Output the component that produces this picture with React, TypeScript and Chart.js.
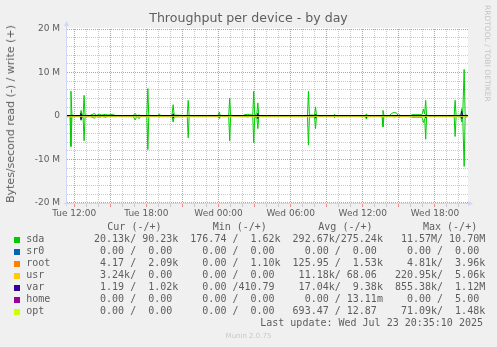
import { useEffect, useRef } from 'react';
import { Chart, registerables } from 'chart.js';

Chart.register(...registerables);

const MB = 1e6;

// Time axis: hours since Tue 00:00
const xMin = 11.4;
const xMax = 44.75;
const xTickHours = [12, 18, 24, 30, 36, 42];
const xTickLabels = ['Tue 12:00', 'Tue 18:00', 'Wed 00:00', 'Wed 06:00', 'Wed 12:00', 'Wed 18:00'];
const yTickValues = [20, 10, 0, -10, -20]; // in M

// sda samples (MB/s)
const sdaHours = [
  11.4, 11.65, 11.73, 11.81, 12.0, 12.5, 12.57, 12.65, 12.74, 12.82, 12.9, 13.3, 13.7, 13.8, 14.1, 14.3,
  14.6, 14.8, 15.2, 15.4, 16.9, 17.07, 17.2, 17.4, 17.5, 18.04, 18.125, 18.2, 19.0, 19.07, 19.2, 20.1,
  20.15, 20.23, 20.31, 21.4, 21.48, 21.56, 23.9, 24.0, 24.07, 24.15, 24.85, 24.93, 25.01, 26.0, 26.2,
  26.4, 26.6, 26.85, 26.93, 27.01, 27.19, 27.27, 27.35, 31.4, 31.48, 31.56, 31.99, 32.07, 32.15, 33.57,
  33.65, 33.73, 36.22, 36.3, 36.38, 37.6, 37.68, 37.76, 38.2, 38.4, 38.6, 38.8, 38.95, 39.05, 39.15,
  40.0, 40.1, 40.9, 40.96, 41.04, 41.15, 41.23, 41.31, 43.6, 43.68, 43.76, 44.15, 44.23, 44.31, 44.43,
  44.51, 44.75,
];
const sdaWrite = [
  0.1, 0.1, 5.7, 0.2, 0.1, 0.1, 1.3, 0.2, 0.2, 4.75, 0.2, 0.1, 0.6, 0.1, 0.4, 0.2,
  0.4, 0.2, 0.4, 0.1, 0.1, 0.6, 0.1, 0.2, 0.1, 0.1, 6.3, 0.1, 0.1, 0.5, 0.1, 0.1,
  0.6, 2.6, 0.2, 0.1, 3.6, 0.1, 0.1, 0.4, 0.9, 0.1, 0.1, 4.1, 0.1, 0.1, 0.3,
  0.4, 0.3, 0.2, 5.7, 0.3, 0.5, 3.0, 0.1, 0.1, 5.7, 0.2, 0.2, 2.1, 0.1, 0.1,
  0.4, 0.1, 0.1, 0.5, 0.1, 0.1, 1.3, 0.1, 0.1, 0.6, 0.8, 0.7, 0.1, 0.3, 0.1,
  0.1, 0.3, 0.3, 0.5, 1.6, 0.5, 3.6, 0.1, 0.1, 3.6, 0.1, 0.2, 1.7, 0.2, 10.7,
  0.3, 0.1,
];
const sdaRead = [
  0.1, 0.1, 7.0, 0.2, 0.1, 0.1, 1.0, 0.2, 0.3, 5.7, 0.2, 0.1, 0.5, 0.1, 0.3, 0.1,
  0.3, 0.1, 0.1, 0.1, 0.1, 0.9, 0.1, 0.6, 0.1, 0.1, 7.7, 0.1, 0.1, 0.2, 0.1, 0.1,
  0.3, 1.4, 0.2, 0.1, 5.0, 0.1, 0.1, 0.2, 0.6, 0.1, 0.1, 5.7, 0.1, 0.1, 0.1,
  0.2, 0.1, 0.1, 6.2, 0.3, 0.4, 2.9, 0.1, 0.1, 6.7, 0.2, 0.2, 2.9, 0.1, 0.1,
  0.4, 0.1, 0.1, 0.7, 0.1, 0.1, 2.5, 0.1, 0.1, 0.1, 0.2, 0.1, 0.1, 0.3, 0.1,
  0.1, 0.3, 0.3, 0.6, 1.5, 0.6, 5.35, 0.1, 0.1, 4.7, 0.1, 0.2, 1.4, 0.2, 11.6,
  0.3, 0.1,
];

// var samples (MB/s)
const varHours = [
  11.4, 12.5, 12.57, 12.65, 20.15, 20.23, 20.31, 24.0, 24.07, 24.15, 27.19, 27.27, 27.35, 31.99, 32.07,
  32.15, 36.22, 36.3, 36.38, 41.15, 41.23, 41.31, 44.15, 44.23, 44.31, 44.75,
];
const varWrite = [0, 0, 0.6, 0, 0, 0.5, 0, 0, 0.2, 0, 0, 0.6, 0, 0, 0.4, 0, 0, 0.1, 0, 0, 0.3, 0, 0, 1.1, 0, 0];
const varRead = [0, 0, 0.85, 0, 0, 0.5, 0, 0, 0.3, 0, 0, 0.6, 0, 0, 0.5, 0, 0, 0.4, 0, 0, 0.5, 0, 0, 0.6, 0, 0];

// usr samples (MB/s)
const usrHours = [11.4, 20.0, 30.0, 40.0, 44.75];
const usrWrite = [0, 0, 0, 0, 0];
const usrRead = [0.2, 0.2, 0.2, 0.2, 0.2];

// near-zero devices
const flatHours = [11.4, 44.75];
const flatValues = [0, 0];

// Legend
const legendNames = ['sda', 'sr0', 'root', 'usr', 'var', 'home', 'opt'];
const legendColors = ['#00CC00', '#0066B3', '#FF8000', '#FFCC00', '#330099', '#990099', '#CCFF00'];
const curValues = [' 20.13k/ 90.23k', '  0.00 /  0.00 ', '  4.17 /  2.09k', '  3.24k/  0.00 ', '  1.19 /  1.02k', '  0.00 /  0.00 ', '  0.00 /  0.00 '];
const minValues = ['176.74 /  1.62k', '  0.00 /  0.00 ', '  0.00 /  1.10k', '  0.00 /  0.00 ', '  0.00 /410.79 ', '  0.00 /  0.00 ', '  0.00 /  0.00 '];
const avgValues = ['292.67k/275.24k', '  0.00 /  0.00 ', '125.95 /  1.53k', ' 11.18k/ 68.06 ', ' 17.04k/  9.38k', '  0.00 / 13.11m', '693.47 / 12.87 '];
const maxValues = [' 11.57M/ 10.70M', '  0.00 /  0.00 ', '  4.81k/  3.96k', '220.95k/  5.06k', '855.38k/  1.12M', '  0.00 /  5.00 ', ' 71.09k/  1.48k'];
const legendHeaders = ['Cur (-/+)', 'Min (-/+)', 'Avg (-/+)', 'Max (-/+)'];

const FONT_COLOR = '#5e5e5e';
const MINOR = '#CACACA';
const MAJOR = '#EE8C8C';
const AXIS = '#CFD6F8';

function pts(hours: number[], vals: number[], sign: number) {
  return hours.map((h, i) => ({ x: h, y: sign * vals[i] * MB }));
}

export default function App() {
  const ref = useRef<HTMLCanvasElement | null>(null);

  useEffect(() => {
    if (!ref.current) return;
    const gridHours: number[] = [];
    for (let h = 12; h <= 44; h++) gridHours.push(h);
    const yGrid: number[] = [];
    for (let v = -20; v <= 20; v += 2) yGrid.push(v * MB);
    const isMajorH = (h: number) => Math.round(h) % 3 === 0;
    const isMajorV = (v: number) => Math.round(v / MB) % 10 === 0;

    const series = [
      { hours: sdaHours, w: sdaWrite, r: sdaRead, color: legendColors[0] },
      { hours: flatHours, w: flatValues, r: flatValues, color: legendColors[1] },
      { hours: flatHours, w: flatValues, r: flatValues, color: legendColors[2] },
      { hours: usrHours, w: usrWrite, r: usrRead, color: legendColors[3] },
      { hours: varHours, w: varWrite, r: varRead, color: legendColors[4] },
      { hours: flatHours, w: flatValues, r: flatValues, color: legendColors[5] },
      { hours: flatHours, w: flatValues, r: flatValues, color: legendColors[6] },
    ];
    const datasets: any[] = [];
    series.forEach((s, i) => {
      datasets.push({
        data: pts(s.hours, s.r, -1),
        borderColor: s.color,
        borderWidth: 1,
        pointRadius: 0,
        tension: 0,
        order: 100 - i,
      });
      datasets.push({
        data: pts(s.hours, s.w, 1),
        borderColor: s.color,
        borderWidth: 1,
        pointRadius: 0,
        tension: 0,
        order: 100 - i,
      });
    });

    const decor = {
      id: 'decor',
      beforeDraw(chart: any) {
        const { ctx, chartArea } = chart;
        ctx.save();
        ctx.fillStyle = '#FFFFFF';
        ctx.fillRect(chartArea.left, chartArea.top - 1, chartArea.right - chartArea.left, chartArea.bottom - chartArea.top + 1);
        ctx.restore();
      },
      beforeDatasetsDraw(chart: any) {
        const { ctx, chartArea: a, scales } = chart;
        const top = Math.round(a.top);
        const bottom = Math.round(a.bottom);
        const left = Math.round(a.left);
        const right = Math.round(a.right);
        ctx.save();
        for (const major of [false, true]) {
          ctx.fillStyle = major ? MAJOR : MINOR;
          for (const h of gridHours) {
            if (isMajorH(h) !== major) continue;
            const px = Math.floor(scales.x.getPixelForValue(h));
            for (let y = top; y < bottom; y += 2) ctx.fillRect(px, y, 1, 1);
            ctx.fillRect(px, bottom + 1, 1, 3);
          }
          for (const v of yGrid) {
            if (isMajorV(v) !== major) continue;
            let py = Math.floor(scales.y.getPixelForValue(v));
            if (py >= bottom) py = bottom - 1;
            for (let x = left; x < right; x += 2) ctx.fillRect(x, py, 1, 1);
          }
        }
        ctx.restore();
      },
      afterDatasetsDraw(chart: any) {
        const { ctx, chartArea, scales } = chart;
        const y0 = Math.round(scales.y.getPixelForValue(0)) - 0.5;
        ctx.save();
        ctx.strokeStyle = '#000000';
        ctx.lineWidth = 1;
        ctx.beginPath();
        ctx.moveTo(chartArea.left, y0);
        ctx.lineTo(chartArea.right, y0);
        ctx.stroke();
        // axes
        const lx = chartArea.left - 0.5;
        const by = chartArea.bottom + 0.5;
        ctx.strokeStyle = AXIS;
        ctx.fillStyle = AXIS;
        ctx.beginPath();
        ctx.moveTo(lx, chartArea.bottom + 3);
        ctx.lineTo(lx, chartArea.top - 4);
        ctx.stroke();
        ctx.beginPath();
        ctx.moveTo(lx - 2.5, chartArea.top - 3);
        ctx.lineTo(lx, chartArea.top - 8);
        ctx.lineTo(lx + 2.5, chartArea.top - 3);
        ctx.closePath();
        ctx.fill();
        ctx.beginPath();
        ctx.moveTo(chartArea.left - 3, by);
        ctx.lineTo(chartArea.right + 1, by);
        ctx.stroke();
        ctx.beginPath();
        ctx.moveTo(chartArea.right, by - 2.5);
        ctx.lineTo(chartArea.right + 5, by);
        ctx.lineTo(chartArea.right, by + 2.5);
        ctx.closePath();
        ctx.fill();
        ctx.restore();
      },
    };

    const chart = new Chart(ref.current, {
      type: 'line',
      data: { datasets },
      options: {
        animation: false,
        responsive: false,
        devicePixelRatio: 1,
        layout: { padding: { top: 29, right: 29, left: 0, bottom: 0 } },
        plugins: { legend: { display: false }, tooltip: { enabled: false }, title: { display: false } },
        scales: {
          x: {
            type: 'linear',
            min: xMin,
            max: xMax,
            afterBuildTicks: (s: any) => {
              s.ticks = gridHours.map((v) => ({ value: v }));
            },
            afterFit: (s: any) => {
              s.height = 27;
            },
            ticks: {
              autoSkip: false,
              maxRotation: 0,
              padding: 2,
              color: FONT_COLOR,
              font: { family: 'DejaVu Sans', size: 9 },
              callback: (v: any) => {
                const i = xTickHours.indexOf(Number(v));
                return i >= 0 ? xTickLabels[i] : '';
              },
            },
            grid: {
              display: true,
              color: 'rgba(0,0,0,0)',
              tickColor: 'rgba(0,0,0,0)',
              lineWidth: 1,
              drawTicks: true,
              tickLength: 3,
            },
            border: { display: false },
          },
          y: {
            type: 'linear',
            min: -20 * MB,
            max: 20 * MB,
            afterBuildTicks: (s: any) => {
              s.ticks = yGrid.map((v) => ({ value: v }));
            },
            afterFit: (s: any) => {
              s.width = 67;
            },
            ticks: {
              autoSkip: false,
              padding: 7,
              color: FONT_COLOR,
              font: { family: 'DejaVu Sans', size: 9 },
              callback: (v: any) => {
                const m = Math.round(Number(v) / MB);
                if (!yTickValues.includes(m)) return '';
                return m === 0 ? '0' : `${m} M`;
              },
            },
            grid: {
              display: true,
              color: 'rgba(0,0,0,0)',
              lineWidth: 1,
              drawTicks: false,
            },
            border: { display: false },
          },
        },
      },
      plugins: [decor],
    } as any);
    return () => chart.destroy();
  }, []);

  const mono: any = {
    position: 'absolute',
    fontFamily: '"DejaVu Sans Mono", monospace',
    fontSize: '10px',
    lineHeight: '12px',
    color: FONT_COLOR,
    whiteSpace: 'pre',
  };
  const headerX = [107.3, 212.7, 318.3, 423];
  const cellX = [88, 190.3, 292.6, 394.9];
  const cols = [curValues, minValues, avgValues, maxValues];
  const rowCenter = (i: number) => 238.7 + i * 12.05;

  return (
    <div
      style={{
        position: 'absolute',
        left: 0,
        top: 0,
        width: 497,
        height: 347,
        background: '#F0F0F0',
        overflow: 'hidden',
        fontFamily: '"DejaVu Sans", sans-serif',
      }}
    >
      <canvas ref={ref} width={497} height={230} style={{ position: 'absolute', left: 0, top: 0, width: 497, height: 230 }} />
      <div
        style={{
          position: 'absolute',
          left: 0,
          width: 497,
          top: 10,
          textAlign: 'center',
          fontSize: '12.6px',
          lineHeight: '16px',
          color: FONT_COLOR,
          whiteSpace: 'nowrap',
        }}
      >
        Throughput per device - by day
      </div>
      <div
        style={{
          position: 'absolute',
          left: 10.5,
          top: 114,
          transform: 'translate(-50%, -50%) rotate(-90deg)',
          fontSize: '11px',
          lineHeight: '12px',
          color: FONT_COLOR,
          whiteSpace: 'nowrap',
        }}
      >
        Bytes/second read (-) / write (+)
      </div>
      <div
        style={{
          position: 'absolute',
          left: 483,
          top: 5,
          writingMode: 'vertical-rl',
          fontSize: '7.5px',
          lineHeight: '9px',
          color: '#C4C4C4',
          whiteSpace: 'nowrap',
        }}
      >
        RRDTOOL / TOBI OETIKER
      </div>
      {legendHeaders.map((h, i) => (
        <div key={'h' + i} style={{ ...mono, left: headerX[i], top: 226.7 - 6 }}>
          {h}
        </div>
      ))}
      {legendNames.map((name, r) => (
        <div key={'r' + r}>
          <div
            style={{
              position: 'absolute',
              left: 14,
              top: rowCenter(r) - 2,
              width: 6,
              height: 6,
              background: legendColors[r],
            }}
          />
          <div style={{ ...mono, left: 26.3, top: rowCenter(r) - 6 }}>{name}</div>
          {cols.map((col, c) => (
            <div key={c} style={{ ...mono, left: cellX[c], top: rowCenter(r) - 6 }}>
              {col[r]}
            </div>
          ))}
        </div>
      ))}
      <div style={{ ...mono, right: 497 - 483, top: rowCenter(7) - 6 }}>Last update: Wed Jul 23 20:35:10 2025</div>
      <div
        style={{
          position: 'absolute',
          left: 0,
          width: 497,
          top: 331,
          textAlign: 'center',
          fontSize: '7px',
          lineHeight: '10px',
          color: '#C8C8C8',
          whiteSpace: 'nowrap',
        }}
      >
        Munin 2.0.75
      </div>
    </div>
  );
}
